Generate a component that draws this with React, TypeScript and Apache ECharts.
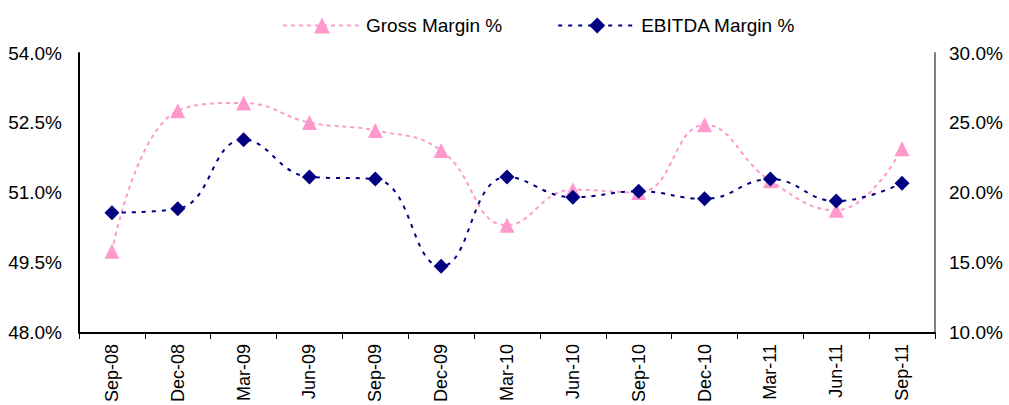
import React, { useEffect, useRef } from "react";
import * as echarts from "echarts";

const categories = ["Sep-08","Dec-08","Mar-09","Jun-09","Sep-09","Dec-09","Mar-10","Jun-10","Sep-10","Dec-10","Mar-11","Jun-11","Sep-11"];
const grossMargin = [49.75, 52.76, 52.93, 52.51, 52.34, 51.91, 50.31, 51.07, 51.01, 52.46, 51.26, 50.63, 51.95];
const ebitdaMargin = [18.59, 18.87, 23.8, 21.15, 20.99, 14.77, 21.15, 19.7, 20.12, 19.58, 20.99, 19.42, 20.7];

const NARROW = "'Liberation Sans', Arial, sans-serif";
const REG = "'Liberation Sans', Arial, sans-serif";

export default function App() {
  const ref = useRef<HTMLDivElement>(null);
  useEffect(() => {
    document.body.style.margin = "0";
    const chart = echarts.init(ref.current!, null, { renderer: "svg" });
    chart.setOption({
      animation: false,
      backgroundColor: "#ffffff",
      legend: {
        left: 277,
        top: 11,
        itemWidth: 78,
        itemHeight: 20,
        itemGap: 55,
        textStyle: { fontFamily: NARROW, fontSize: 19, color: "#000" },
        data: ["Gross Margin %", "EBITDA Margin %"],
      },
      grid: { left: 79, right: 74, top: 53, bottom: 69 },
      xAxis: {
        type: "category",
        data: categories,
        boundaryGap: true,
        axisLine: { lineStyle: { color: "#000", width: 2 } },
        axisTick: { show: true, inside: false, length: 6, lineStyle: { color: "#000" } },
        axisLabel: { rotate: 90, fontFamily: REG, fontSize: 18, color: "#000", margin: 11 },
      },
      yAxis: [
        {
          type: "value",
          min: 48,
          max: 54,
          interval: 1.5,
          position: "left",
          axisLine: { show: true, lineStyle: { color: "#000", width: 2 } },
          axisTick: { show: false },
          splitLine: { show: false },
          axisLabel: { fontFamily: NARROW, fontSize: 19, color: "#000", margin: 17, formatter: (v: number) => v.toFixed(1) + "%" },
        },
        {
          type: "value",
          min: 10,
          max: 30,
          interval: 5,
          position: "right",
          axisLine: { show: true, lineStyle: { color: "#808080", width: 2 } },
          axisTick: { show: false },
          splitLine: { show: false },
          axisLabel: { fontFamily: NARROW, fontSize: 19, color: "#000", margin: 14, formatter: (v: number) => v.toFixed(1) + "%" },
        },
      ],
      series: [
        {
          name: "Gross Margin %",
          type: "line",
          yAxisIndex: 0,
          data: grossMargin,
          smooth: 0.45,
          symbol: "triangle",
          symbolSize: 15,
          lineStyle: { color: "#FF99CC", width: 2, type: [4, 4] },
          itemStyle: { color: "#FF99CC" },
          z: 2,
        },
        {
          name: "EBITDA Margin %",
          type: "line",
          yAxisIndex: 1,
          data: ebitdaMargin,
          smooth: 0.45,
          symbol: "diamond",
          symbolSize: 15,
          lineStyle: { color: "#000080", width: 2, type: [4, 6] },
          itemStyle: { color: "#000080" },
          z: 3,
        },
      ],
    });
    return () => chart.dispose();
  }, []);
  return <div ref={ref} style={{ width: 1009, height: 405 }} />;
}
